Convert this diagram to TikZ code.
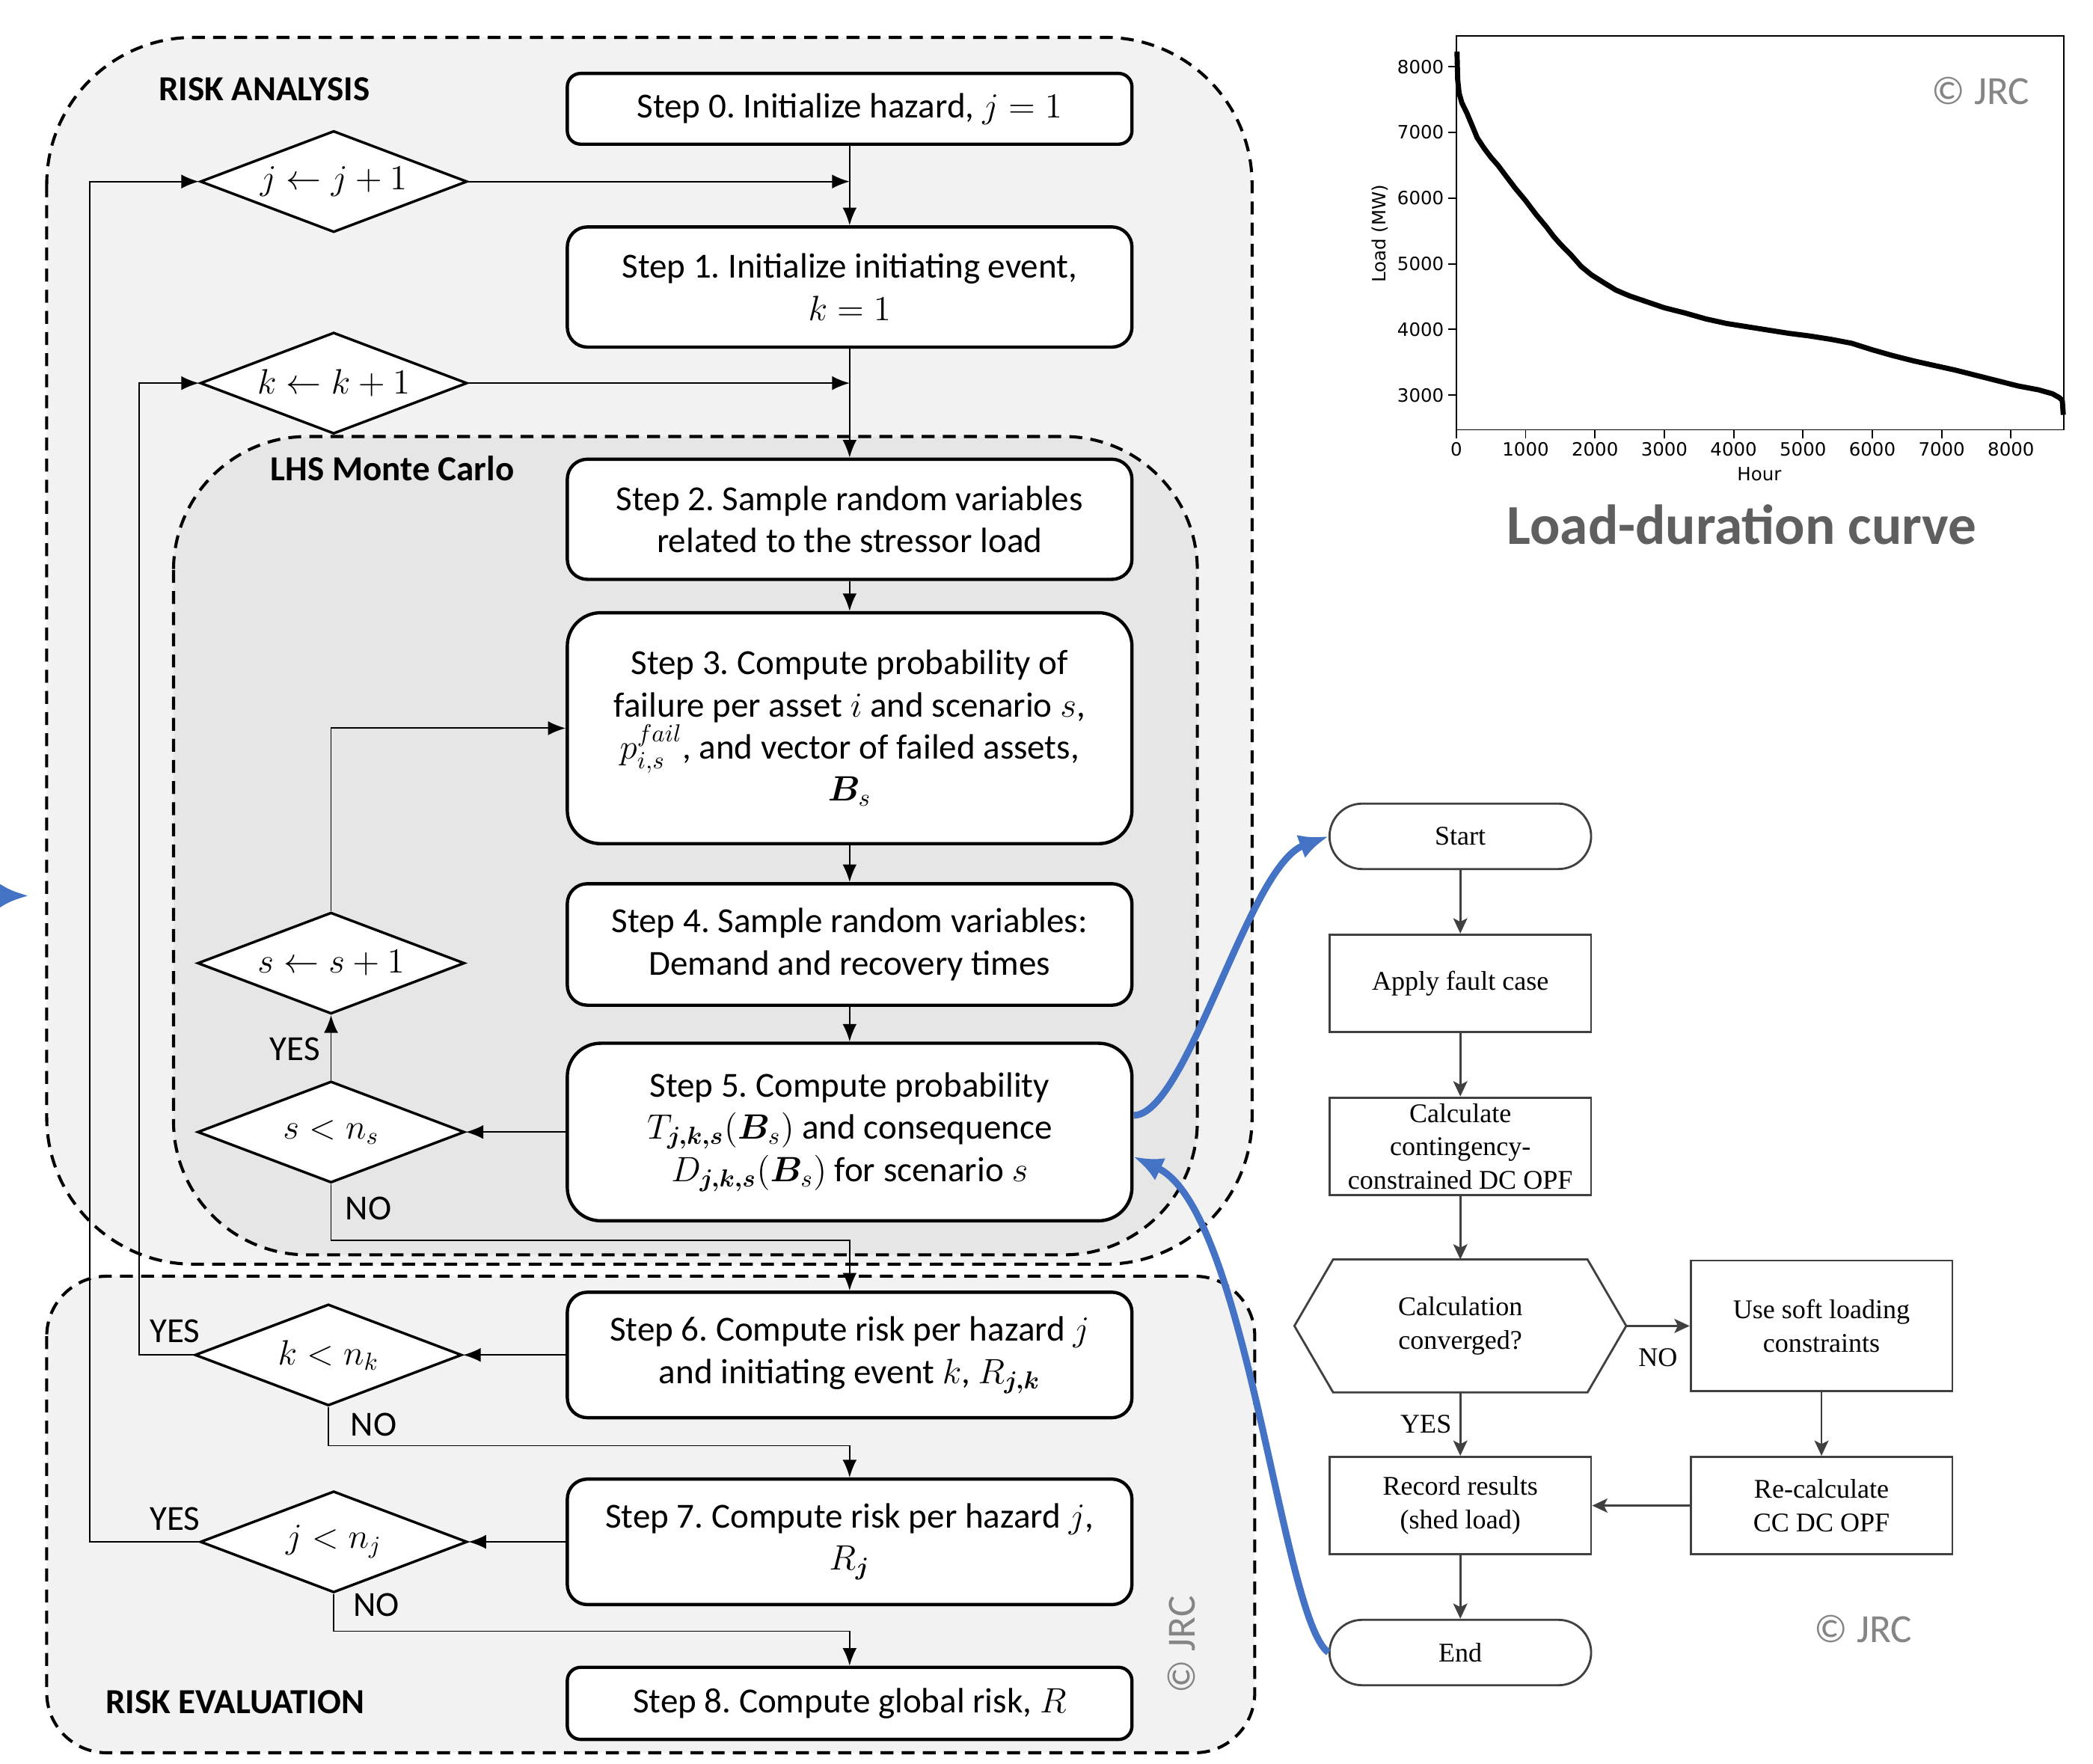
\RequirePackage{fix-cm}
\documentclass[tikz,border=0pt]{standalone}
\usepackage{amsmath,bm}
\usepackage{fontspec}
\setmainfont{Carlito}
\newfontfamily\timesfont{Liberation Serif}
\newfontfamily\plotfont{DejaVu Sans}
\usetikzlibrary{arrows.meta,positioning,shapes.geometric}
\frenchspacing

\definecolor{zonefill}{HTML}{F2F2F2}
\definecolor{lhsfill}{HTML}{E6E6E6}
\definecolor{linkblue}{HTML}{4472C4}
\definecolor{chartgray}{HTML}{404040}
\definecolor{jrcgray}{HTML}{858585}
\definecolor{titlegray}{HTML}{5F5F5F}

\begin{document}
\begin{tikzpicture}[x=0.2mm,y=-0.2mm]
	\tikzset{>={Latex[length=7.5pt,width=6pt]}, node distance=9.5mm,
		zone/.style={line width=1.3pt, dash pattern=on 5.5pt off 3.5pt},
		stepbox/.style={draw, line width=1.4pt, fill=white, rounded corners=3mm, minimum width=84.6mm, inner sep=0pt, align=center, font=\fontsize{15}{18}\selectfont},
		cond/.style={diamond, draw, line width=1.1pt, fill=white, aspect=2.6, minimum width=40mm, minimum height=15.2mm, inner sep=0pt, font=\fontsize{15}{18}\selectfont},
		flowline/.style={->, line width=0.6pt},
		lbl/.style={font=\fontsize{15}{18}\selectfont},
		zonelbl/.style={font=\fontsize{15}{18}\selectfont\bfseries},
		proc/.style={draw=chartgray, line width=0.9pt, minimum width=39.2mm, minimum height=14.6mm, inner sep=0pt, align=center, font=\timesfont\fontsize{11.5}{14.2}\selectfont},
		term/.style={proc, rounded corners=4.9mm, minimum height=9.8mm},
		cflow/.style={-{Stealth[length=6.5pt,width=6pt,inset=1.5pt]}, draw=chartgray, line width=0.9pt},
		clbl/.style={font=\timesfont\fontsize{11.5}{14.2}\selectfont},
		bluelink/.style={-{Latex[length=12.5pt,width=10.5pt]}, draw=linkblue, line width=2.9pt},
		jrc/.style={text=jrcgray, font=\fontsize{17}{20}\selectfont},
		ticklbl/.style={font=\plotfont\fontsize{7.8}{9}\selectfont}
	}
	\useasboundingbox (0,0) rectangle (1568,1321);
	\fill[white] (0,0) rectangle (1568,1321);

	% dashed zones
	\draw[zone, fill=zonefill, rounded corners=22mm] (35,28) rectangle (938,947);
	\draw[zone, fill=lhsfill, rounded corners=20mm] (130,327) rectangle (897,940);
	\draw[zone, fill=zonefill, rounded corners=9mm] (35,956) rectangle (940,1313);

	\node[zonelbl] (ra) at (198,67) {RISK ANALYSIS};
	\node[zonelbl] (lhs) at (294,351) {LHS Monte Carlo};
	\node[zonelbl] (re) at (176,1275) {RISK EVALUATION};

	% steps
	\node[stepbox, rounded corners=2mm, minimum height=10.6mm] (s0) at (636.5,81.5) {Step 0. Initialize hazard, $j=1$};
	\node[stepbox, minimum height=18mm] (s1) at (636.5,215) {Step 1. Initialize initiating event,\\ $k=1$};
	\node[stepbox, minimum height=18mm] (s2) at (636.5,389) {Step 2. Sample random variables\\ related to the stressor load};
	\node[stepbox, rounded corners=5mm, minimum height=34.6mm] (s3) at (636.5,545.5) {Step 3. Compute probability of\\ failure per asset $i$ and scenario $s$,\\ $p_{i,s}^{fail}$, and vector of failed assets,\\ $\bm{B}_s$};
	\node[stepbox, minimum height=18.2mm] (s4) at (636.5,707.5) {Step 4. Sample random variables:\\ Demand and recovery times};
	\node[stepbox, rounded corners=5mm, minimum height=26.6mm] (s5) at (636.5,848) {Step 5. Compute probability\\ $T_{\bm{j,k,s}}(\bm{B}_s)$ and consequence\\ $D_{\bm{j,k,s}}(\bm{B}_s)$ for scenario $s$};
	\node[stepbox, minimum height=18.8mm] (s6) at (636.5,1015) {Step 6. Compute risk per hazard $j$\\ and initiating event $k$, $R_{\bm{j,k}}$};
	\node[stepbox, minimum height=18.8mm] (s7) at (636.5,1155) {Step 7. Compute risk per hazard $j$,\\ $R_{\bm{j}}$};
	\node[stepbox, rounded corners=2mm, minimum height=10.8mm] (s8) at (636.5,1276) {Step 8. Compute global risk, $R$};

	% decisions
	\node[cond] (dj) at (250,136) {$j\leftarrow j+1$};
	\node[cond] (dk) at (250,287) {$k\leftarrow k+1$};
	\node[cond] (ds) at (248,721.5) {$s\leftarrow s+1$};
	\node[cond] (dns) at (248,848) {$s<n_s$};
	\node[cond] (dnk) at (246,1015) {$k<n_k$};
	\node[cond] (dnj) at (250,1155) {$j<n_j$};

	\draw[flowline] (s0) -- (s1);
	\draw[flowline] (dj.east) -- (dj.east -| s1.north);
	\draw[flowline] (s1) -- (s2);
	\draw[flowline] (dk.east) -- (dk.east -| s2.north);
	\draw[flowline] (s2) -- (s3);
	\draw[flowline] (s3) -- (s4);
	\draw[flowline] (s4) -- (s5);
	\draw[flowline] (s5) -- (dns);
	\draw[flowline] (dns) -- (ds);
	\draw[flowline] (ds.north) |- (s3.west);
	\draw[flowline] (dns.south) -- ++(0,42) -| (s6.north);
	\draw[flowline] (s6) -- (dnk);
	\draw[flowline] (dnk.south) -- ++(0,29) -| (s7.north);
	\draw[flowline] (dnk.west) -- ++(-41,0) |- (dk.west);
	\draw[flowline] (s7) -- (dnj);
	\draw[flowline] (dnj.south) -- ++(0,28) -| (s8.north);
	\draw[flowline] (dnj.west) -- ++(-82,0) |- (dj.west);

	\node[lbl] (yes1) at (221,786) {YES};
	\node[lbl] (no1) at (276,905) {NO};
	\node[lbl] (yes2) at (131,997) {YES};
	\node[lbl] (no2) at (280,1067) {NO};
	\node[lbl] (yes3) at (131,1138) {YES};
	\node[lbl] (no3) at (282,1202) {NO};
	\node[jrc, rotate=90] (jrc1) at (885,1232) {© JRC};

	% contingency analysis
	\node[term] (start) at (1094,626.5) {Start};
	\node[proc, below=of start] (fault) {Apply fault case};
	\node[proc, below=of fault] (opf) {Calculate\\contingency-\\constrained DC OPF};
	\node[proc, draw=none, below=of opf, minimum width=49.4mm, minimum height=19.6mm] (conv) {Calculation\\converged?};
	\draw[draw=chartgray, line width=0.9pt] (conv.west) -- ([xshift=5.8mm]conv.north west) -- ([xshift=-5.8mm]conv.north east) -- (conv.east) -- ([xshift=-5.8mm]conv.south east) -- ([xshift=5.8mm]conv.south west) -- cycle;
	\node[proc, right=of conv, minimum height=19.6mm] (soft) {Use soft loading\\constraints};
	\node[proc, below=of conv] (record) {Record results\\(shed load)};
	\node[proc, below=of soft] (recalc) {Re-calculate\\CC DC OPF};
	\node[term, below=of record] (end) {End};

	\draw[cflow] (start) -- (fault);
	\draw[cflow] (fault) -- (opf);
	\draw[cflow] (opf) -- (conv);
	\draw[cflow] (conv) -- (record) node[clbl, midway, left] (yes4) {YES};
	\draw[cflow] (conv) -- (soft) node[clbl, midway, below=2mm] (no4) {NO};
	\draw[cflow] (soft) -- (recalc);
	\draw[cflow] (recalc) -- (record);
	\draw[cflow] (record) -- (end);
	\node[jrc] (jrc2) at (1396,1220) {© JRC};

	% links between the two charts
	\coordinate (edgeA) at (0,671);
	\coordinate (edgeB) at (21.5,671);
	\draw[bluelink] (edgeA) -- (edgeB);
	\draw[bluelink] ([yshift=2.5mm]s5.east) .. controls +(40,0) and +(-60,22) .. (start.west);
	\draw[bluelink] (end.west) .. controls +(-35,-25) and +(85,40) .. ([yshift=-3.7mm]s5.east);

	% load-duration curve
	\begin{scope}[shift={(1091,443.6)}, x=0.010388mm, y=0.00984mm]
		\draw[line width=0.6pt] (0,2472) rectangle (8760,8467);
		\foreach \h in {0,1000,...,8000}
			\draw[line width=0.6pt] (\h,2472) -- ++(0pt,-3.5pt) node[ticklbl, below, inner sep=1.5pt] (xt\h) {\h};
		\foreach \l in {3000,4000,...,8000}
			\draw[line width=0.6pt] (0,\l) -- ++(-3.5pt,0pt) node[ticklbl, left, inner sep=1.5pt] (yt\l) {\l};
		\draw[line width=2.2pt, line join=round] (10,8230) -- (20,7800) -- (40,7600) -- (80,7450) -- (150,7300) -- (230,7100) -- (300,6920) -- (400,6760) -- (500,6620) -- (600,6500) -- (720,6330) -- (850,6150) -- (1000,5960) -- (1150,5750) -- (1300,5560) -- (1400,5420) -- (1500,5300) -- (1650,5140) -- (1800,4960) -- (1950,4830) -- (2100,4730) -- (2300,4600) -- (2500,4510) -- (2750,4420) -- (3000,4330) -- (3300,4250) -- (3600,4160) -- (3900,4090) -- (4200,4040) -- (4500,3990) -- (4800,3940) -- (5100,3900) -- (5400,3850) -- (5700,3790) -- (6000,3690) -- (6300,3600) -- (6600,3520) -- (6900,3450) -- (7200,3380) -- (7500,3300) -- (7800,3220) -- (8100,3140) -- (8400,3080) -- (8600,3020) -- (8700,2960) -- (8740,2920) -- (8755,2700);
	\end{scope}
	\node[ticklbl] (hour) at (1318,355) {Hour};
	\node[ticklbl, rotate=90] (load) at (1034,175) {Load (MW)};
	\node[jrc] (jrc3) at (1484,68) {© JRC};
	\node[font=\fontsize{24}{28}\selectfont\bfseries, text=titlegray] (title) at (1305,393) {Load-duration curve};
\end{tikzpicture}
\end{document}
